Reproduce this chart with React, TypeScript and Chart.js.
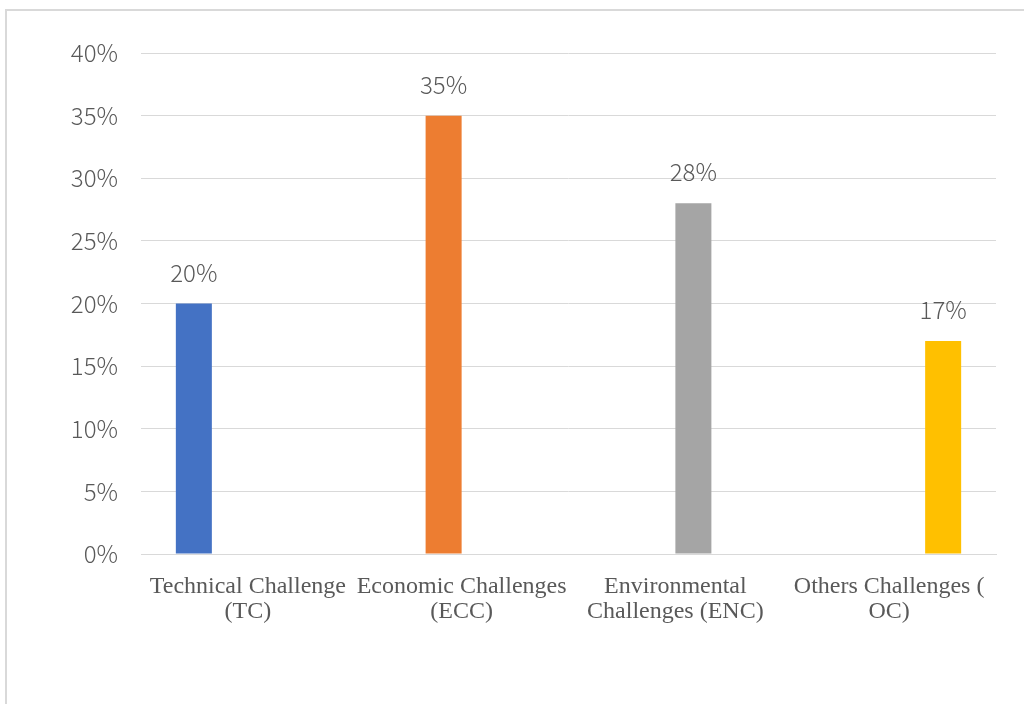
import React, { useEffect, useRef } from "react";
import { Chart, registerables } from "chart.js";

Chart.register(...registerables);

// Category labels (two lines each, as wrapped on the axis)
const categories: string[][] = [
  ["Technical Challenge", "(TC)"],
  ["Economic Challenges", "(ECC)"],
  ["Environmental", "Challenges (ENC)"],
  ["Others Challenges (", "OC)"],
];

// One series per challenge type, percent values
const seriesNames = ["Technical Challenge (TC)", "Economic Challenges (ECC)", "Environmental Challenges (ENC)", "Others Challenges (OC)"];
const seriesValues = [20, 35, 28, 17];
const seriesColors = ["#4472C4", "#ED7D31", "#A5A5A5", "#FFC000"];

const yTicks = [0, 5, 10, 15, 20, 25, 30, 35, 40];

const TEXT = "#595959";
const GRID = "#D9D9D9";
const SANS = "'Noto Sans CJK JP', 'Noto Sans', sans-serif";
const SERIF = "'Liberation Serif', 'DejaVu Serif', serif";

// Writes each bar's value above it
const valueLabels = {
  id: "valueLabels",
  afterDatasetsDraw(chart: any) {
    const ctx = chart.ctx;
    ctx.save();
    ctx.fillStyle = TEXT;
    ctx.font = `300 24px ${SANS}`;
    ctx.textAlign = "center";
    ctx.textBaseline = "alphabetic";
    chart.data.datasets.forEach((ds: any, i: number) => {
      const meta = chart.getDatasetMeta(i);
      meta.data.forEach((bar: any, k: number) => {
        const v = ds.data[k];
        if (v === null || v === undefined) return;
        ctx.fillText(`${v}%`, bar.x, bar.y - 22);
      });
    });
    ctx.restore();
  },
};

export default function App() {
  const ref = useRef<HTMLCanvasElement | null>(null);

  useEffect(() => {
    if (!ref.current) return;
    const chart = new Chart(ref.current, {
      type: "bar",
      data: {
        labels: categories,
        datasets: seriesNames.map((name, i) => ({
          label: name,
          data: categories.map((_, k) => (k === i ? seriesValues[i] : null)),
          backgroundColor: seriesColors[i],
          borderWidth: 0,
          categoryPercentage: 0.674,
          barPercentage: 1,
        })),
      },
      options: {
        animation: false,
        responsive: false,
        maintainAspectRatio: false,
        layout: { padding: { left: 0, top: 53, right: 28, bottom: 0 } },
        plugins: {
          legend: { display: false },
          tooltip: { enabled: false },
        },
        scales: {
          x: {
            grid: { display: false, drawTicks: false },
            border: { display: true, color: GRID, width: 1 },
            ticks: {
              color: TEXT,
              font: { family: SERIF, size: 24, lineHeight: "25px" },
              padding: 20,
              maxRotation: 0,
              autoSkip: false,
            },
            afterFit: (scale: any) => {
              scale.height = 150;
            },
          },
          y: {
            min: 0,
            max: 40,
            afterBuildTicks: (scale: any) => {
              scale.ticks = yTicks.map((v) => ({ value: v }));
            },
            grid: { color: GRID, lineWidth: 1, drawTicks: false },
            border: { display: false },
            ticks: {
              color: TEXT,
              font: { family: SANS, size: 24, weight: "300" },
              padding: 23,
              callback: (v: any) => `${v}%`,
            },
            afterFit: (scale: any) => {
              scale.width = 141;
            },
          },
        },
      },
      plugins: [valueLabels],
    });
    return () => chart.destroy();
  }, []);

  return (
    <div style={{ position: "fixed", left: 0, top: 0, width: 1024, height: 704, background: "#fff", overflow: "hidden" }}>
      <div
        style={{
          position: "absolute",
          left: 5,
          top: 9,
          width: 1030,
          height: 710,
          borderTop: `2px solid ${GRID}`,
          borderLeft: `2px solid ${GRID}`,
          boxSizing: "border-box",
        }}
      />
      <canvas ref={ref} width={1024} height={704} style={{ position: "absolute", left: 0, top: 0, width: 1024, height: 704 }} />
    </div>
  );
}
